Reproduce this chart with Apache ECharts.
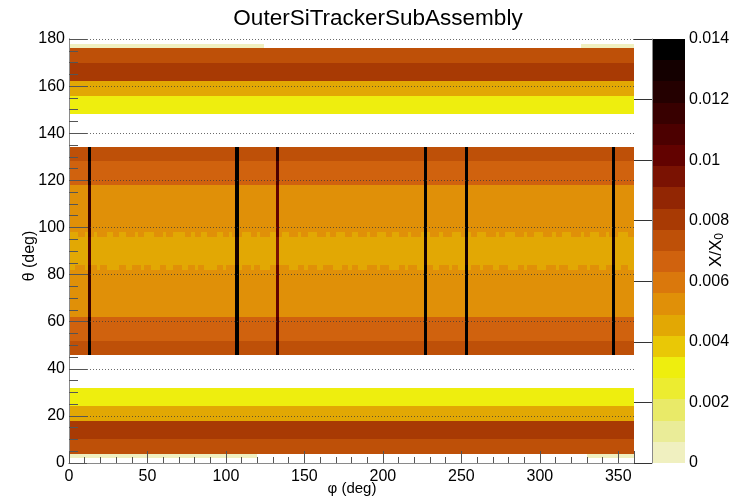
<!DOCTYPE html>
<html>
<head>
<meta charset="utf-8">
<title>OuterSiTrackerSubAssembly</title>
<script src="https://cdn.jsdelivr.net/npm/echarts@6/dist/echarts.min.js"></script>
<style>
  html, body { margin: 0; padding: 0; background: #ffffff; }
  #chart { width: 755px; height: 499px; }
</style>
</head>
<body>
<div id="chart"></div>
<script>
// ---------------- colour scale: X/X0 from 0 to 0.014 in 20 contour levels ----------------
const zMin = 0;
const zMax = 0.014;
const levelColors = [
  '#f0f0c0', '#eaec98', '#e9ea68', '#ecec30', '#eeee0e',
  '#e9c806', '#e2a804', '#e09008', '#da780c', '#d0620e',
  '#be5008', '#a83a04', '#922603', '#7a1202', '#620200',
  '#4c0000', '#380000', '#240000', '#140000', '#000000'
];
const zTicks = [0, 0.002, 0.004, 0.006, 0.008, 0.01, 0.012, 0.014];

// ---------------- full-width theta bands (deg) and their X/X0 ----------------
const bandLow   = [4,      10,     18,     24,     46,     52,     62,     84,     98,     118,    128,    148,    156,    162,    170];
const bandHigh  = [10,     18,     24,     32,     52,     62,     82,     96,     118,    128,    134,    156,    162,    170,    176];
const bandValue = [0.0074, 0.0081, 0.0046, 0.0032, 0.0074, 0.0066, 0.0053, 0.0046, 0.0053, 0.0066, 0.0074, 0.0032, 0.0046, 0.0081, 0.0074];

// ---------------- rows with a mixed pattern along phi ----------------
const rowLow   = [82, 96];
const rowHigh  = [84, 98];
const rowBase  = [0.0053, 0.0053];
const rowAlt   = [0.0046, 0.0046];
// phi runs (deg) where the row takes its alternate value
const rowAltRuns = [
  [[0,4],[10,14],[18,20],[24,32],[36,40],[46,48],[52,58],[62,66],[72,76],[80,82],[86,94],[98,100],
   [106,110],[116,118],[122,128],[132,134],[140,146],[150,152],[158,162],[168,174],[178,180],[184,190],
   [196,198],[204,210],[214,216],[222,228],[232,236],[242,244],[248,256],[262,264],[270,274],[280,286],
   [290,292],[298,304],[310,312],[318,324],[330,332],[338,342],[346,352],[356,360]],
  [[0,6],[10,12],[16,18],[24,28],[32,36],[42,44],[48,54],[60,62],[66,74],[78,80],[84,88],[94,98],
   [102,104],[110,116],[120,122],[128,132],[136,140],[146,148],[152,158],[164,166],[170,176],[180,184],
   [190,192],[196,202],[206,210],[216,218],[224,230],[236,238],[244,250],[254,256],[260,266],[272,274],
   [278,284],[290,292],[296,302],[308,310],[314,320],[326,328],[332,338],[342,344],[350,356]]
];

// ---------------- thin strips covering only part of phi ----------------
const stripLow   = [2, 176];
const stripHigh  = [4, 178];
const stripValue = [0.0004, 0.0004];
const stripPhiRuns = [
  [[0, 120], [330, 360]],
  [[0, 124], [326, 360]]
];

// ---------------- support rails: narrow phi bins across the barrel theta range ----------------
const railPhiLow  = [12, 106, 132, 226, 252, 346];
const railPhiHigh = [14, 108, 134, 228, 254, 348];
const railExcess  = [0.0060, 0.0085, 0.0045, 0.0085, 0.0080, 0.0085];
const railThetaLow = 46;
const railThetaHigh = 134;

// ---------------- axes ----------------
const phiMin = 0, phiMax = 360, phiStep = 50;
const thetaMin = 0, thetaMax = 180, thetaStep = 20;

const FONT = '"Liberation Sans", Arial, Helvetica, sans-serif';

function levelOf(v) {
  let k = Math.floor((v - zMin) / (zMax - zMin) * levelColors.length);
  return Math.max(0, Math.min(levelColors.length - 1, k));
}

// cells: [phiLo, phiHi, thetaLo, thetaHi, value]
const cells = [];
bandLow.forEach((lo, i) => cells.push([phiMin, phiMax, lo, bandHigh[i], bandValue[i]]));
rowLow.forEach((lo, i) => {
  cells.push([phiMin, phiMax, lo, rowHigh[i], rowBase[i]]);
  rowAltRuns[i].forEach(r => cells.push([r[0], r[1], lo, rowHigh[i], rowAlt[i]]));
});
stripLow.forEach((lo, i) => {
  stripPhiRuns[i].forEach(r => cells.push([r[0], r[1], lo, stripHigh[i], stripValue[i]]));
});
// rails sit on top of whatever the barrel band holds at each theta
const barrelSegments = [];
bandLow.forEach((lo, i) => {
  if (lo >= railThetaLow && bandHigh[i] <= railThetaHigh) barrelSegments.push([lo, bandHigh[i], bandValue[i]]);
});
rowLow.forEach((lo, i) => barrelSegments.push([lo, rowHigh[i], rowBase[i]]));
railPhiLow.forEach((p, j) => {
  barrelSegments.forEach(s => cells.push([p, railPhiHigh[j], s[0], s[1], s[2] + railExcess[j]]));
});

// colour bar cells: [zLo, zHi, level]
const barCells = levelColors.map((c, k) => [zMin + k * (zMax - zMin) / levelColors.length,
                                             zMin + (k + 1) * (zMax - zMin) / levelColors.length, k]);

// pixel-snapped rectangle between two data corners, so neighbouring cells leave no seams
function snappedRect(a, b, fill) {
  const x0 = Math.round(a[0]), y0 = Math.round(a[1]);
  const x1 = Math.round(b[0]), y1 = Math.round(b[1]);
  return {
    type: 'rect',
    shape: { x: x0, y: y0, width: x1 - x0, height: y1 - y0 },
    style: { fill: fill, stroke: null }
  };
}

const chart = echarts.init(document.getElementById('chart'), null, { renderer: 'canvas' });

const tickStyle = { color: '#555555', width: 1 };
const frameStyle = { color: '#8a8a8a', width: 1 };
const labelStyle = { color: '#000000', fontSize: 16, fontFamily: FONT };

chart.setOption({
  animation: false,
  backgroundColor: '#ffffff',
  grid: [
    { left: 69, top: 39, width: 565, height: 424, containLabel: false, outerBoundsMode: 'none' },
    { left: 652, top: 39, width: 33, height: 424, containLabel: false, outerBoundsMode: 'none' }
  ],
  xAxis: [
    {
      gridIndex: 0, type: 'value', position: 'bottom', min: phiMin, max: phiMax, interval: phiStep, z: 10,
      axisLine: { show: true, lineStyle: frameStyle },
      axisTick: { show: true, inside: true, length: 12, lineStyle: tickStyle },
      minorTick: { show: true, splitNumber: 5, length: 6, lineStyle: tickStyle },
      axisLabel: Object.assign({ margin: 6, showMaxLabel: false }, labelStyle),
      splitLine: { show: false }
    },
    {
      gridIndex: 0, type: 'value', position: 'top', min: phiMin, max: phiMax, z: 10,
      axisLine: { show: true, lineStyle: frameStyle },
      axisTick: { show: false }, axisLabel: { show: false }, splitLine: { show: false }
    },
    { gridIndex: 1, type: 'value', min: 0, max: 1, show: false }
  ],
  yAxis: [
    {
      gridIndex: 0, type: 'value', position: 'left', min: thetaMin, max: thetaMax, interval: thetaStep, z: 10,
      axisLine: { show: true, lineStyle: frameStyle },
      axisTick: { show: true, inside: true, length: 18, lineStyle: tickStyle },
      minorTick: { show: true, splitNumber: 4, length: 9, lineStyle: tickStyle },
      axisLabel: Object.assign({ margin: 4 }, labelStyle),
      splitLine: { show: true, lineStyle: { color: '#3a3a3a', opacity: 0.75, width: 1, type: [1, 2] } }
    },
    {
      gridIndex: 0, type: 'value', position: 'right', min: thetaMin, max: thetaMax, z: 10,
      axisLine: { show: true, lineStyle: frameStyle },
      axisTick: { show: false }, axisLabel: { show: false }, splitLine: { show: false }
    },
    {
      gridIndex: 1, type: 'value', position: 'right', min: zMin, max: zMax, interval: zTicks[1] - zTicks[0], z: 10,
      axisLine: { show: true, lineStyle: frameStyle },
      axisTick: { show: true, inside: true, length: 18, lineStyle: { color: '#333333', width: 1 } },
      axisLabel: Object.assign({ margin: 4 }, labelStyle),
      splitLine: { show: false }
    }
  ],
  series: [
    {
      type: 'custom',
      xAxisIndex: 0, yAxisIndex: 0,
      data: cells,
      encode: { x: [0, 1], y: [2, 3] },
      renderItem: function (params, api) {
        const a = api.coord([api.value(0), api.value(3)]);
        const b = api.coord([api.value(1), api.value(2)]);
        return snappedRect(a, b, levelColors[levelOf(api.value(4))]);
      }
    },
    {
      type: 'custom',
      xAxisIndex: 2, yAxisIndex: 2,
      data: barCells,
      encode: { y: [0, 1] },
      renderItem: function (params, api) {
        const a = api.coord([0, api.value(1)]);
        const b = api.coord([1, api.value(0)]);
        return snappedRect(a, b, levelColors[api.value(2)]);
      }
    }
  ],
  graphic: [
    {
      type: 'text', x: 378, y: 19, z: 20,
      style: { text: 'OuterSiTrackerSubAssembly', fill: '#000', font: '22.5px ' + FONT, align: 'center', verticalAlign: 'middle' }
    },
    {
      type: 'text', x: 352, y: 489, z: 20,
      style: { text: 'φ (deg)', fill: '#000', font: '15px ' + FONT, align: 'center', verticalAlign: 'middle' }
    },
    {
      type: 'text', x: 30, y: 256, z: 20, rotation: Math.PI / 2,
      style: { text: 'θ (deg)', fill: '#000', font: '16px ' + FONT, align: 'center', verticalAlign: 'middle' }
    },
    {
      type: 'text', x: 716, y: 250, z: 20, rotation: Math.PI / 2,
      style: {
        text: 'X/X{s|0}', fill: '#000', font: '17px ' + FONT, align: 'center', verticalAlign: 'middle',
        rich: { s: { fontSize: 12, fontFamily: FONT, fill: '#000', padding: [8, 0, 0, 0] } }
      }
    }
  ]
});
</script>
</body>
</html>
